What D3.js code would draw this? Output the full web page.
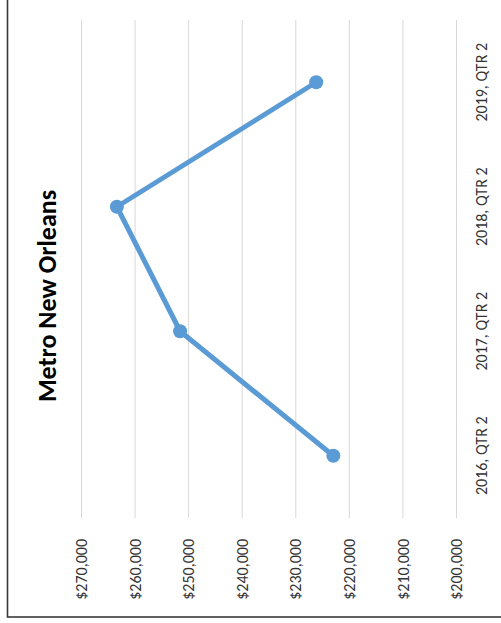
<!DOCTYPE html>
<html>
<head>
<meta charset="utf-8">
<script src="https://cdn.jsdelivr.net/npm/d3@7"></script>
<style>
  body { margin: 0; background: #ffffff; }
  svg { display: block; }
</style>
</head>
<body>
<script>
(function () {

var quarters = ["2016, QTR 2", "2017, QTR 2", "2018, QTR 2", "2019, QTR 2"]
var prices = [222900, 251500, 263300, 226100]
var valueTicks = [200000, 210000, 220000, 230000, 240000, 250000, 260000, 270000]
var title = "Metro New Orleans"

var width = 501,
height = 623

// plot area (chart is turned on its side: values run right to left, quarters bottom to top)
var plotLeft = 81,
plotRight = 456,
plotTop = 20,
plotBottom = 518

var font = "Calibri, Carlito, 'Liberation Sans', Arial, sans-serif"

var svg = d3.select("body")
.append("svg")
.attr("width", width)
.attr("height", height)

svg.append("rect")
.attr("x", 7.5)
.attr("y", -20)
.attr("width", width + 40)
.attr("height", 637)
.attr("fill", "white")
.attr("stroke", "#3a3a3a")
.attr("stroke-width", 1.6)

var xScale = d3.scaleLinear().domain([200000, 270000]).range([plotRight, plotLeft])
var yScale = d3.scaleBand().domain(quarters).range([plotBottom, plotTop])

function cy(d) { return yScale(d) + yScale.bandwidth() / 2 }

// gridlines
var grid = svg.append("g")
.attr("transform", "translate(0 " + plotBottom + ")")
.call(d3.axisBottom(xScale).tickValues(valueTicks).tickSize(-(plotBottom - plotTop)).tickFormat(""))

grid.select(".domain").remove()
grid.selectAll("line").attr("stroke", "#d9d9d9").attr("stroke-width", 1)

// value labels
var valueAxis = svg.append("g")
.attr("transform", "translate(0 " + plotBottom + ")")
.call(d3.axisBottom(xScale).tickValues(valueTicks).tickSize(0).tickFormat(d3.format("$,")))

valueAxis.select(".domain").remove()
valueAxis.selectAll("text")
.attr("transform", "rotate(-90)")
.attr("x", -21)
.attr("y", 0)
.attr("dy", "0.35em")
.style("text-anchor", "end")
.style("font-family", font)
.style("font-size", "16px")
.attr("fill", "#333333")

// quarter labels on the right
var catAxis = svg.append("g")
.attr("transform", "translate(487 0)")
.call(d3.axisRight(yScale).tickSize(0))

catAxis.select(".domain").remove()
catAxis.selectAll("text")
.attr("transform", "rotate(-90)")
.attr("x", 0)
.attr("y", 0)
.attr("dy", 0)
.style("text-anchor", "middle")
.style("font-family", font)
.style("font-size", "16px")
.attr("fill", "#333333")

// line
var line = d3.line()
.x(function(d) { return xScale(d.value) })
.y(function(d) { return cy(d.quarter) })

var points = quarters.map(function(q, i) { return { quarter: q, value: prices[i] } })

svg.append("path")
.datum(points)
.attr("d", line)
.attr("fill", "none")
.attr("stroke", "#5b9bd5")
.attr("stroke-width", 5)
.attr("stroke-linejoin", "round")
.attr("stroke-linecap", "round")

svg.selectAll(".dot")
.data(points)
.enter().append("circle")
.attr("class", "dot")
.attr("cx", function(d) { return xScale(d.value) })
.attr("cy", function(d) { return cy(d.quarter) })
.attr("r", 7)
.attr("fill", "#5b9bd5")

// title
svg.append("text")
.attr("transform", "translate(56 296) rotate(-90)")
.attr("text-anchor", "middle")
.style("font-family", font)
.style("font-size", "26px")
.style("font-weight", "bold")
.attr("fill", "#000000")
.text(title)

}())
</script>
</body>
</html>
